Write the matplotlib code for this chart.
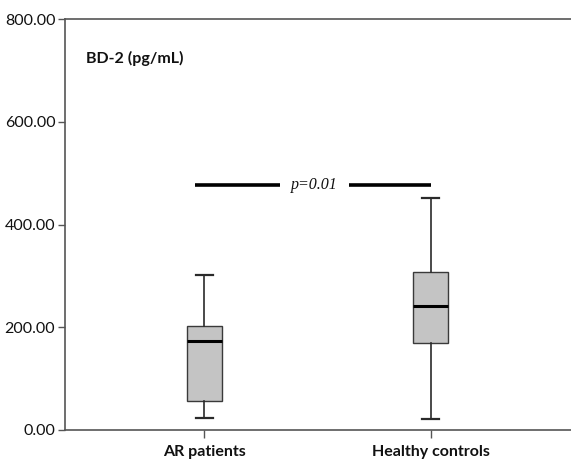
import matplotlib
matplotlib.use("Agg")
import matplotlib.pyplot as plt

# Box statistics (pg/mL)
groups = ["AR patients", "Healthy controls"]
whisker_low = [24, 21]
q1 = [56, 169]
median = [174, 242]
q3 = [203, 307]
whisker_high = [302, 451]

p_text = "p=0.01"
p_level = 478
y_ticks = [0, 200, 400, 600, 800]

plt.rcParams["font.family"] = ["Lato", "DejaVu Sans"]

fig = plt.figure(figsize=(5.71, 4.59), dpi=100)
ax = fig.add_axes([0.1138, 0.0632, 0.8862, 0.8948])

stats = []
for i, name in enumerate(groups):
    stats.append({"label": name, "whislo": whisker_low[i], "q1": q1[i],
                  "med": median[i], "q3": q3[i], "whishi": whisker_high[i],
                  "fliers": []})

positions = [1, 2]
ax.bxp(stats, positions=positions, widths=0.155, patch_artist=True,
       showfliers=False,
       boxprops=dict(facecolor="#c4c4c4", edgecolor="#3a3a3a", linewidth=1.0),
       medianprops=dict(color="black", linewidth=2.2),
       whiskerprops=dict(color="#2a2a2a", linewidth=1.2),
       capprops=dict(color="#2a2a2a", linewidth=1.6),
       capwidths=0.075)

# significance bar with p-value in the gap
ax.plot([0.9615, 1.334], [p_level, p_level], color="black", lw=2.6,
        solid_capstyle="butt")
ax.plot([1.6415, 2.0], [p_level, p_level], color="black", lw=2.6,
        solid_capstyle="butt")
ax.text(1.488, p_level, p_text, ha="center", va="center", fontsize=11.5,
        style="italic", family=["Liberation Serif", "DejaVu Serif"],
        color="#111111")

ax.text(0.041, 0.905, "BD-2 (pg/mL)", transform=ax.transAxes,
        fontsize=11.5, fontweight="bold", color="#111111", va="center")

ax.set_xlim(0.386, 2.62)
ax.set_ylim(0, 800)
ax.set_yticks(y_ticks)
ax.set_yticklabels([f"{v:.2f}" for v in y_ticks])
ax.set_xticks(positions)
ax.set_xticklabels(groups, fontweight="bold")

for side in ["left", "top", "bottom"]:
    ax.spines[side].set_color("#555555")
    ax.spines[side].set_linewidth(1.2)
ax.spines["right"].set_visible(False)

ax.tick_params(axis="y", length=5, width=1.0, color="#555555",
               labelsize=11.5, labelcolor="#111111", pad=2)
ax.tick_params(axis="x", length=6, width=1.0, color="#555555",
               labelsize=11.5, labelcolor="#111111", pad=5)

fig.savefig("out.png", dpi=100)
